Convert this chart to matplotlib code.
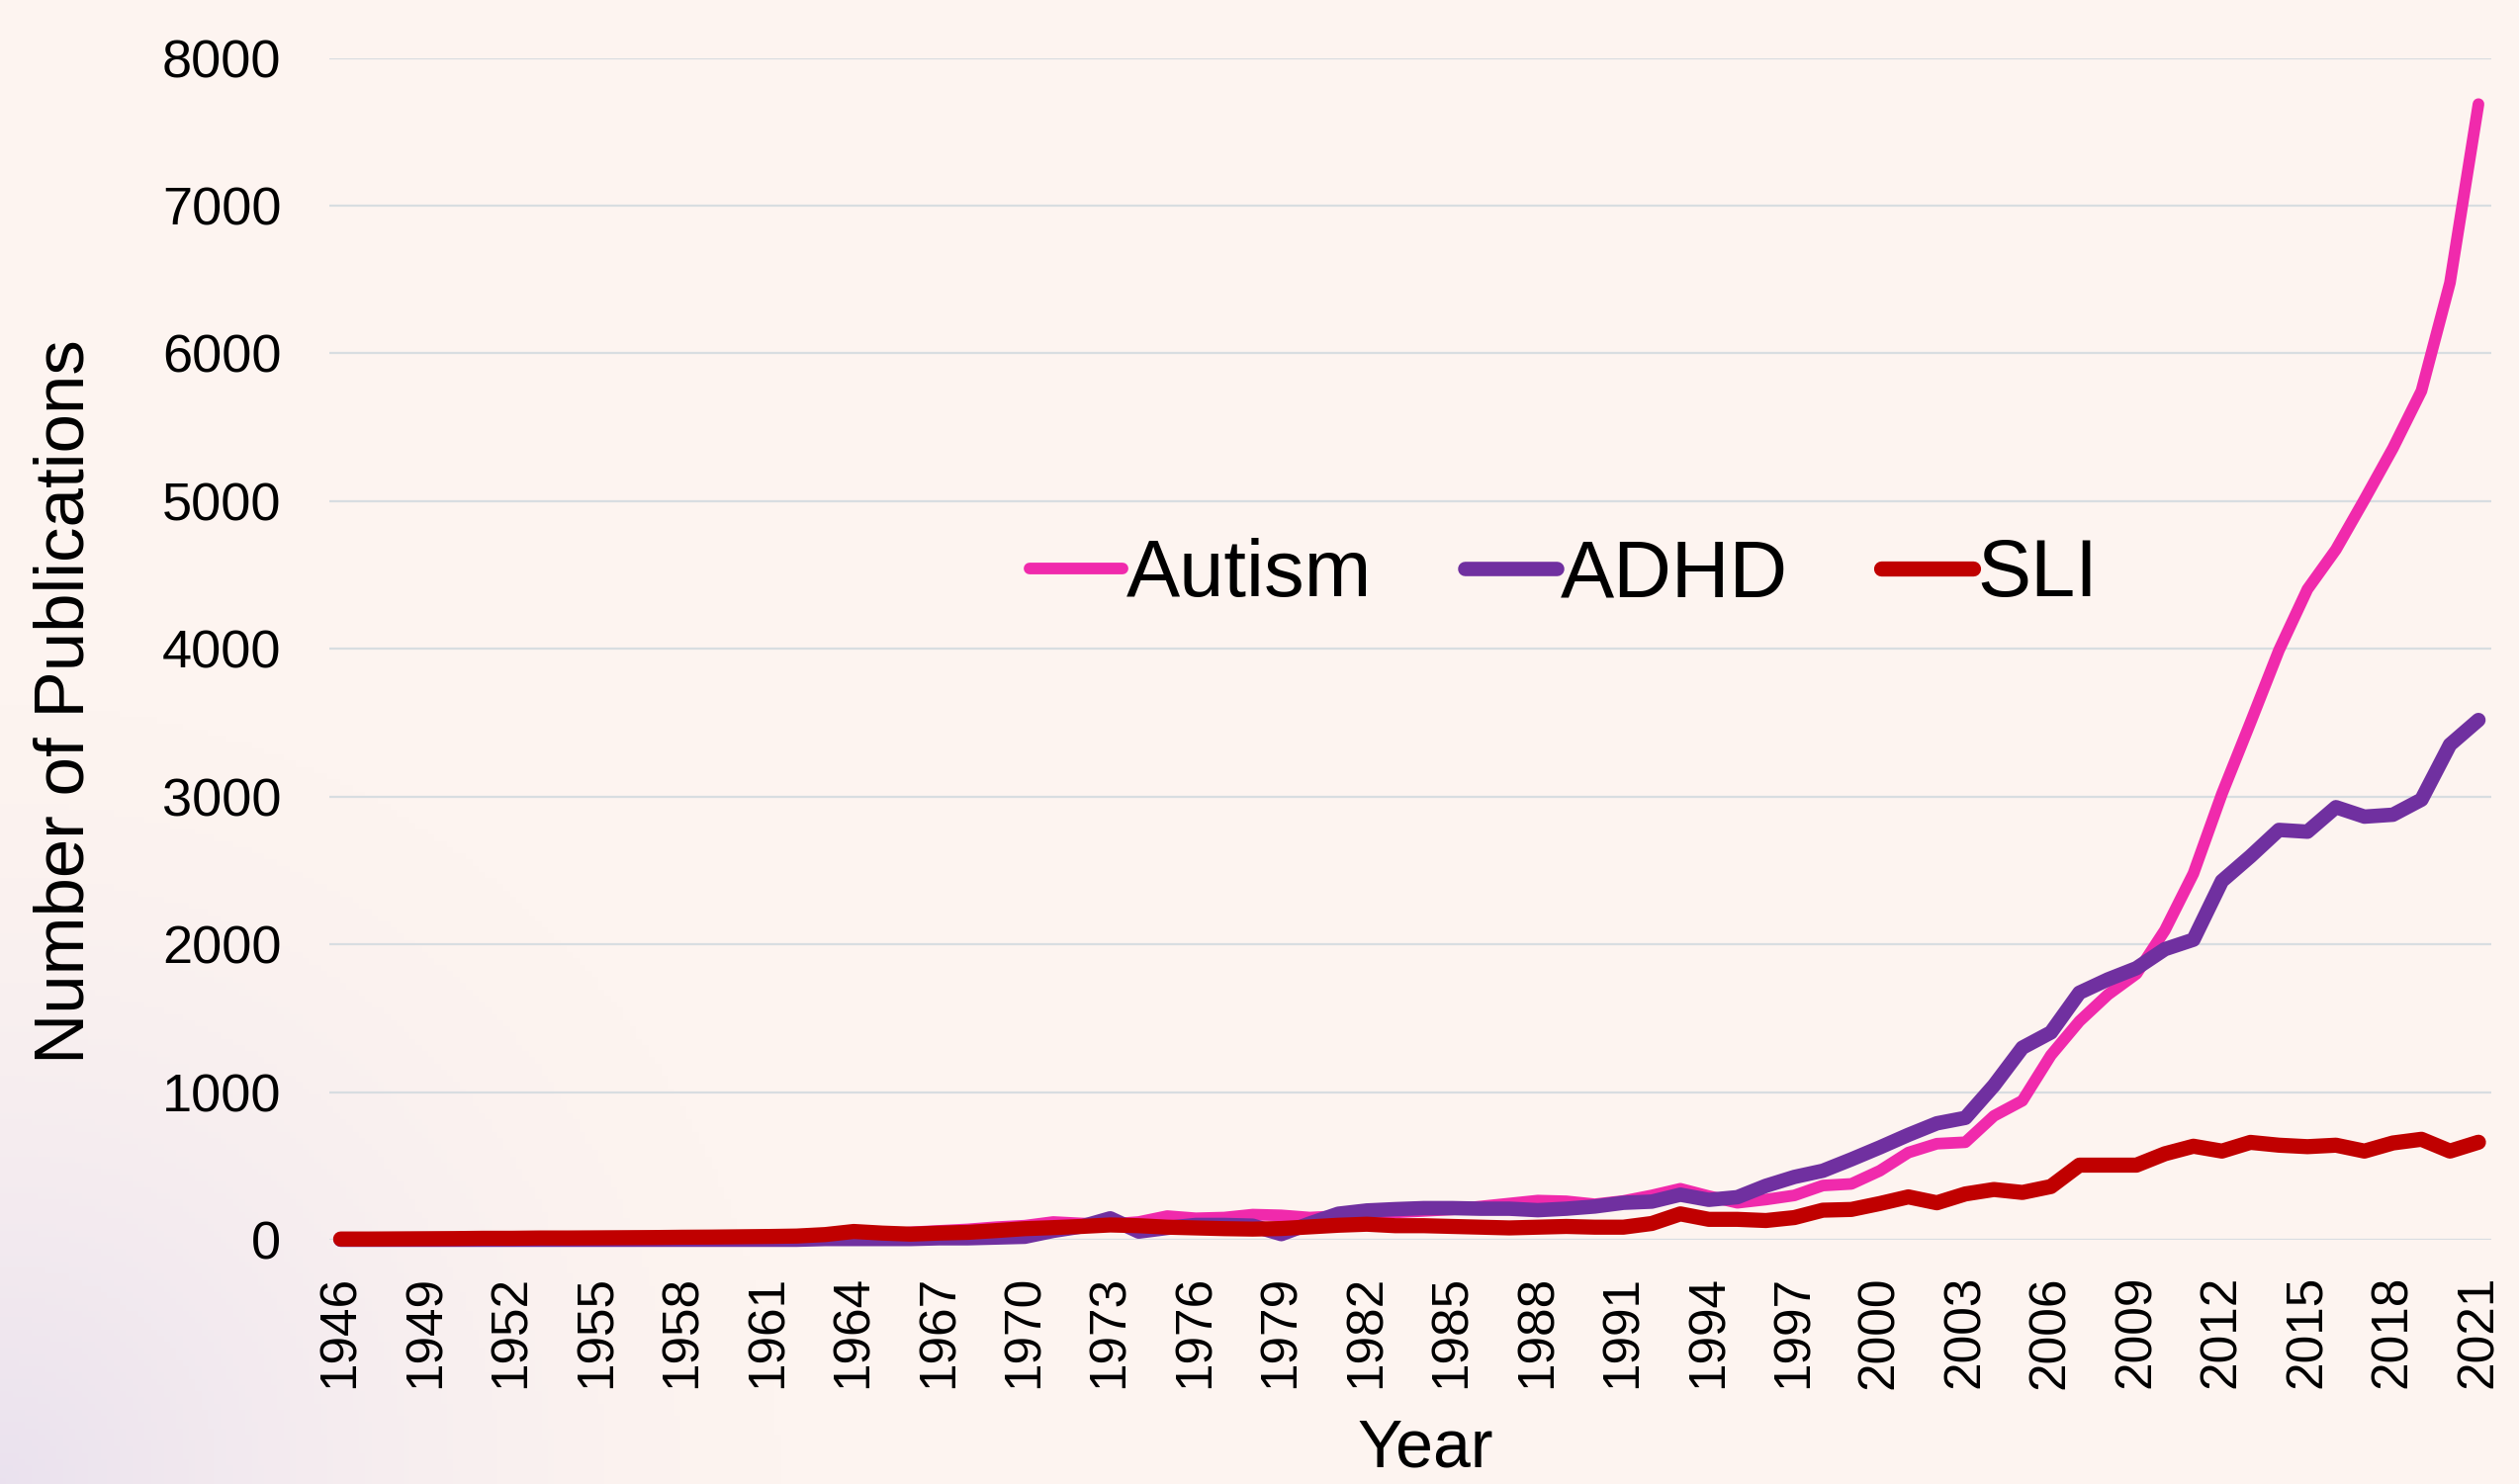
import numpy as np
import matplotlib
matplotlib.use("Agg")
import matplotlib.pyplot as plt

plt.rcParams['font.family'] = ['Liberation Sans', 'DejaVu Sans']

# data
years = list(range(1946, 2022))

autism = [0, 0, 0, 1, 1, 1, 2, 2, 2, 3, 3, 4, 5, 5, 6, 8, 10,
          15, 25, 30, 50, 60, 70, 85, 95, 120, 110, 105, 120, 160,
          145, 150, 170, 165, 150, 160, 175, 185, 195, 205, 225, 245,
          265, 260, 240, 262, 300, 345, 295, 250, 272, 300, 367, 378,
          467, 590, 650, 660, 838, 941, 1249, 1479, 1659, 1800, 2095,
          2479, 3018, 3500, 3990, 4403, 4672, 5010, 5358, 5746, 6478, 7687]

adhd = [0, 0, 0, 0, 0, 0, 0, 0, 0, 0, 0, 0, 0, 0, 0, 0, 0,
        5, 5, 5, 5, 10, 10, 15, 20, 60, 90, 145, 55, 80,
        100, 100, 95, 38, 110, 176, 198, 207, 214, 214, 210, 210,
        200, 210, 225, 250, 258, 305, 270, 288, 365, 425, 467, 544,
        625, 710, 788, 825, 1044, 1300, 1403, 1672, 1762, 1838, 1967,
        2031, 2428, 2595, 2774, 2762, 2928, 2864, 2877, 2979, 3351, 3518]

sli = [5, 5, 6, 7, 8, 10, 10, 12, 12, 13, 14, 15, 17, 18, 20, 22, 25,
       35, 56, 45, 38, 45, 50, 62, 75, 82, 90, 100, 95, 85,
       80, 75, 72, 76, 87, 98, 105, 95, 95, 90, 85, 80,
       85, 90, 85, 85, 110, 175, 138, 138, 130, 150, 200, 205,
       245, 290, 250, 310, 340, 320, 360, 505, 505, 505, 582,
       633, 600, 659, 640, 630, 640, 600, 655, 680, 600, 660]

series_names = ["Autism", "ADHD", "SLI"]
colors = ["#F02AAC", "#7030A0", "#C00000"]
widths = [8.5, 10.5, 11]

xticks = list(range(1946, 2022, 3))
yticks = list(range(0, 8001, 1000))

bg = "#FDF4F0"

fig = plt.figure(figsize=(25.47, 15.01), dpi=100, facecolor=bg)

# faint lavender glow in the bottom-left corner
bg_ax = fig.add_axes([0, 0, 1, 1], zorder=-10)
bg_ax.set_axis_off()
gx, gy = np.meshgrid(np.linspace(0, 1.7, 400), np.linspace(1, 0, 240))
r = np.sqrt(gx ** 2 + gy ** 2)
alpha = np.clip(1 - r / 0.55, 0, 1) ** 1.6 * 0.55
glow = np.zeros((240, 400, 4))
glow[..., 0] = 0.86
glow[..., 1] = 0.83
glow[..., 2] = 0.93
glow[..., 3] = alpha
bg_ax.imshow(glow, extent=[0, 1, 0, 1], aspect='auto')
bg_ax.set_xlim(0, 1)
bg_ax.set_ylim(0, 1)

ax = fig.add_axes([0.1307, 0.1646, 0.8583, 0.7964])
ax.set_facecolor("none")

for name, vals, c, lw in zip(series_names, [autism, adhd, sli], colors, widths):
    ax.plot(years, vals, color=c, lw=lw, label=name,
            solid_capstyle='round', solid_joinstyle='round', clip_on=False)

ax.set_xlim(1945.6, 2021.45)
ax.set_ylim(0, 8000)
ax.set_xticks(xticks)
ax.set_xticklabels([str(y) for y in xticks], rotation=90, fontsize=37)
ax.set_yticks(yticks)
ax.set_yticklabels([str(v) for v in yticks], fontsize=39)
ax.tick_params(axis='both', length=0)
ax.tick_params(axis='y', pad=35)
ax.tick_params(axis='x', pad=26)

ax.grid(axis='y', color='#D8DDE1', lw=1.6)
ax.set_axisbelow(True)
for s in ax.spines.values():
    s.set_visible(False)

ax.set_ylabel("Number of Publications", fontsize=51, va='center')
ax.yaxis.set_label_coords(-0.122, 0.455)
ax.set_xlabel("Year", fontsize=49)
ax.xaxis.set_label_coords(0.507, -0.150)

ax.legend(loc='center', bbox_to_anchor=(0.571, 0.562), ncol=3, frameon=False,
          fontsize=58.5, handlelength=1.15, handletextpad=0.05, columnspacing=1.15)

fig.savefig("out.png", dpi=100, facecolor=bg)
